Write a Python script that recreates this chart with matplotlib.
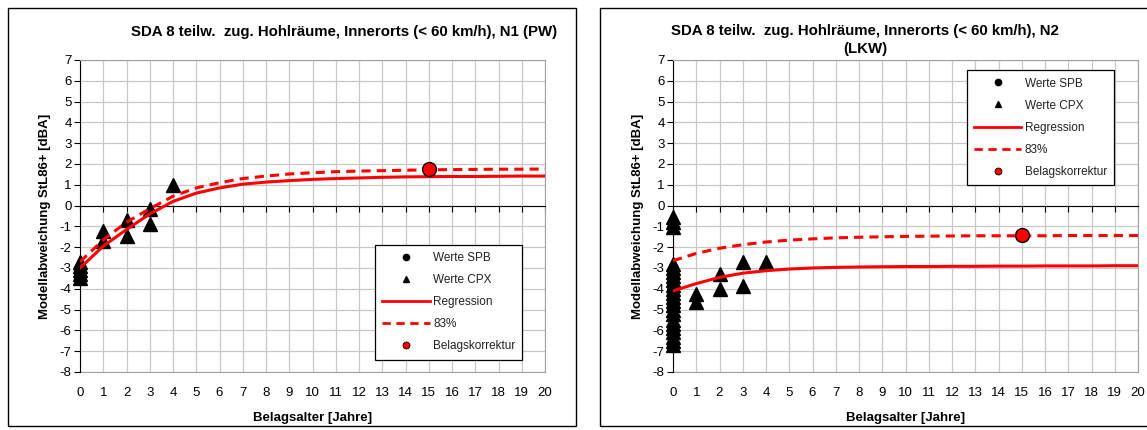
import matplotlib
matplotlib.use('Agg')
import matplotlib.pyplot as plt
from matplotlib.lines import Line2D
from matplotlib.patches import Rectangle

plt.rcParams['font.family'] = ['Liberation Sans', 'DejaVu Sans']
plt.rcParams['axes.unicode_minus'] = False

years = list(range(0, 21))

# N1 (PW)
n1_cpx_x = [0, 0, 0, 0, 0, 1, 1, 2, 2, 3, 3, 4]
n1_cpx_y = [-2.7, -2.9, -3.1, -3.3, -3.5, -1.2, -1.7, -0.7, -1.45, -0.15, -0.9, 1.0]
n1_spb_x = [0, 0, 0]
n1_spb_y = [-3.2, -3.4, -3.5]
n1_reg = [-3.0, -1.95, -1.15, -0.4, 0.2, 0.6, 0.85, 1.03, 1.13, 1.2, 1.26,
          1.3, 1.33, 1.36, 1.38, 1.39, 1.4, 1.4, 1.41, 1.42, 1.42]
n1_83 = [-2.7, -1.65, -0.8, -0.15, 0.45, 0.85, 1.1, 1.3, 1.42, 1.52, 1.58,
         1.63, 1.66, 1.68, 1.7, 1.72, 1.73, 1.74, 1.75, 1.75, 1.76]
n1_korr = (15, 1.75)

# N2 (LKW)
n2_cpx_x = [0] * 23 + [1, 1, 2, 2, 3, 3, 4]
n2_cpx_y = [-0.55, -0.8, -1.05,
            -2.8, -3.0, -3.2, -3.4, -3.6, -3.8, -4.0, -4.2, -4.4, -4.6, -4.8,
            -5.0, -5.2, -5.5, -5.7, -5.9, -6.1, -6.3, -6.5, -6.7,
            -4.25, -4.65, -3.3, -4.0, -2.7, -3.85, -2.7]
n2_spb_x = [0, 0]
n2_spb_y = [-4.0, -5.0]
n2_reg = [-4.1, -3.75, -3.45, -3.25, -3.13, -3.05, -3.0, -2.97, -2.95, -2.94, -2.93,
          -2.93, -2.92, -2.92, -2.91, -2.91, -2.9, -2.9, -2.9, -2.89, -2.89]
n2_83 = [-2.65, -2.3, -2.05, -1.88, -1.75, -1.66, -1.6, -1.55, -1.52, -1.5, -1.48,
         -1.47, -1.46, -1.45, -1.45, -1.45, -1.45, -1.44, -1.44, -1.44, -1.44]
n2_korr = (15, -1.4)

titles = ['SDA 8 teilw.  zug. Hohlräume, Innerorts (< 60 km/h), N1 (PW)',
          'SDA 8 teilw.  zug. Hohlräume, Innerorts (< 60 km/h), N2\n(LKW)']
legend_labels = ['Werte SPB', 'Werte CPX', 'Regression', '83%', 'Belagskorrektur']

W, H = 1147, 430
fig = plt.figure(figsize=(W / 100, H / 100), dpi=100)

# outer chart frames
fig.patches.append(Rectangle((8 / W, 4 / H), 568 / W, 418 / H, transform=fig.transFigure,
                             fill=False, edgecolor='black', linewidth=1.0))
fig.patches.append(Rectangle((600 / W, 4 / H), 560 / W, 418 / H, transform=fig.transFigure,
                             fill=False, edgecolor='black', linewidth=1.0))

grid_col = '#c8c8c8'


def draw_panel(left_px, spb_x, spb_y, cpx_x, cpx_y, reg, p83, korr, leg_loc):
    ax = fig.add_axes([left_px / W, 58 / H, 465 / W, 312 / H])
    ax.plot(spb_x, spb_y, 'o', color='black', ms=8, zorder=3, clip_on=False)
    ax.plot(cpx_x, cpx_y, '^', color='black', ms=10, zorder=3, clip_on=False)
    ax.plot(years, reg, '-', color='red', lw=2.2, zorder=4)
    ax.plot(years, p83, '--', color='red', lw=2.2, dashes=(3, 2), zorder=4)
    ax.plot([korr[0]], [korr[1]], 'o', color='red', mec='black', mew=1.0, ms=10, zorder=5)

    ax.set_xlim(0, 20)
    ax.set_ylim(-8, 7)
    ax.set_xticks(years)
    ax.set_yticks(range(-8, 8))
    ax.grid(True, color=grid_col, lw=0.9)
    ax.set_axisbelow(True)

    # x axis line at y=0 with ticks, labels at the bottom
    ax.spines['bottom'].set_position(('data', 0))
    ax.spines['bottom'].set_color('black')
    ax.spines['left'].set_color('black')
    ax.spines['top'].set_color('#a0a0a0')
    ax.spines['right'].set_color('#a0a0a0')
    ax.tick_params(axis='x', labelbottom=False, direction='out', length=4, color='black')
    ax.tick_params(axis='y', direction='out', length=4, labelsize=9.5, pad=2)
    sec = ax.secondary_xaxis('bottom')
    sec.set_xticks(years)
    sec.tick_params(length=0, labelsize=9.5, pad=11)
    sec.spines['bottom'].set_color('#a0a0a0')
    sec.set_xlabel('Belagsalter [Jahre]', fontweight='bold', fontsize=9.5, labelpad=9)

    ax.set_ylabel('Modellabweichung StL86+ [dBA]', fontweight='bold', fontsize=9.5, labelpad=6)

    handles = [Line2D([], [], ls='none', marker='o', color='black', ms=4.5),
               Line2D([], [], ls='none', marker='^', color='black', ms=5),
               Line2D([], [], ls='-', color='red', lw=2),
               Line2D([], [], ls='--', color='red', lw=2, dashes=(3, 2)),
               Line2D([], [], ls='none', marker='o', color='red', mec='black', mew=0.6, ms=5)]
    leg = ax.legend(handles, legend_labels, loc=leg_loc, fontsize=8.5, frameon=True,
                    fancybox=False, framealpha=1, edgecolor='black', handlelength=4.0,
                    labelspacing=0.85, borderpad=0.6, handletextpad=0.3)
    leg.get_frame().set_linewidth(0.9)
    for t in leg.get_texts():
        t.set_color('#222222')
    return ax


ax1 = draw_panel(80, n1_spb_x, n1_spb_y, n1_cpx_x, n1_cpx_y, n1_reg, n1_83, n1_korr,
                 (0.635, 0.04))
ax2 = draw_panel(673, n2_spb_x, n2_spb_y, n2_cpx_x, n2_cpx_y, n2_reg, n2_83, n2_korr,
                 (0.632, 0.6))

fig.text(344 / W, 1 - 32 / H, titles[0], ha='center', va='center',
         fontweight='bold', fontsize=10.8)
fig.text(865 / W, 1 - 24 / H, titles[1], ha='center', va='top',
         fontweight='bold', fontsize=10.8, linespacing=1.4)

fig.savefig('out.png', dpi=100)
